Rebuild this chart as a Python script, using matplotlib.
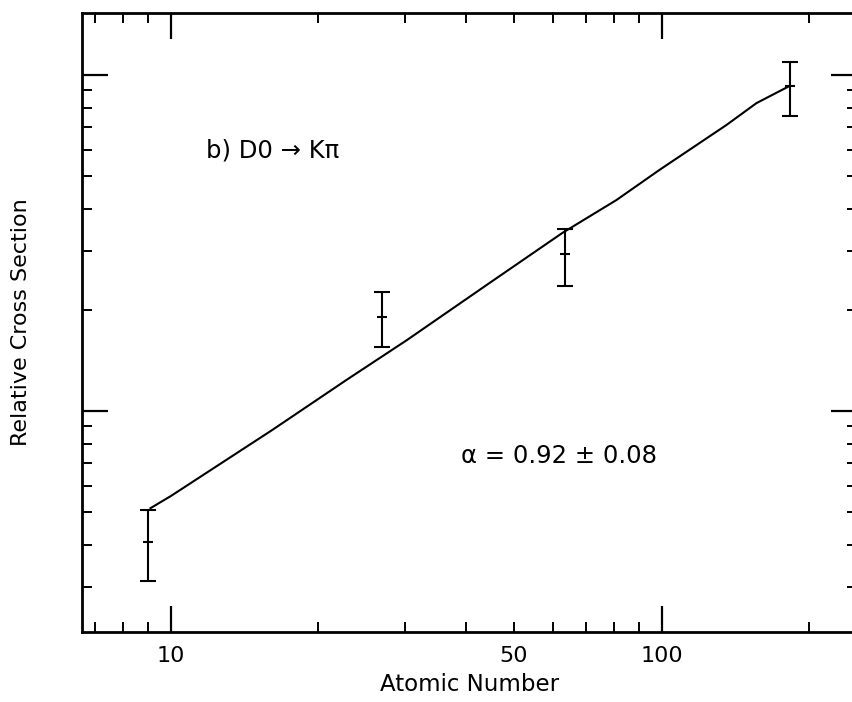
import matplotlib
matplotlib.use("Agg")
import matplotlib.pyplot as plt
from matplotlib.ticker import FixedLocator, FixedFormatter, NullFormatter

# Data
atomic_number = [9.0, 27.0, 63.5, 183.0]
cross_section = [0.0408, 0.190, 0.293, 0.927]
err_low = [0.0096, 0.035, 0.058, 0.172]
err_high = [0.0099, 0.036, 0.055, 0.166]

fit_x = [9.1, 10.0, 16.1, 22.8, 30.3, 44.6, 62.8, 80.9, 99.0, 135.5, 156.0, 182.0]
fit_y = [0.0514, 0.0558, 0.0878, 0.1237, 0.1627, 0.2404, 0.339, 0.4246, 0.522, 0.710, 0.825, 0.927]

x_major = [10, 100]
x_minor = [7, 8, 9, 20, 30, 40, 50, 60, 70, 80, 90, 200]
x_minor_labels = ["", "", "", "", "", "", "50", "", "", "", "", ""]
y_major = [0.1, 1.0]
y_minor = [0.03, 0.04, 0.05, 0.06, 0.07, 0.08, 0.09,
           0.2, 0.3, 0.4, 0.5, 0.6, 0.7, 0.8, 0.9]

plt.rcParams['font.family'] = ['DejaVu Sans']

fig = plt.figure(figsize=(8.53, 7.02), dpi=100)
ax = fig.add_axes([82 / 853, 70 / 702, 775 / 853, 619 / 702])
ax.set_xscale('log')
ax.set_yscale('log')
ax.set_xlim(6.6, 250)
ax.set_ylim(0.022, 1.53)

ax.plot(fit_x, fit_y, color='black', lw=1.5)
ax.errorbar(atomic_number, cross_section, yerr=[err_low, err_high],
            fmt='_', color='black', markersize=7, mew=1.5,
            elinewidth=1.5, capsize=5.5, capthick=1.5)

ax.xaxis.set_major_locator(FixedLocator(x_major))
ax.xaxis.set_major_formatter(FixedFormatter([str(v) for v in x_major]))
ax.xaxis.set_minor_locator(FixedLocator(x_minor))
ax.xaxis.set_minor_formatter(FixedFormatter(x_minor_labels))
ax.yaxis.set_major_locator(FixedLocator(y_major))
ax.yaxis.set_major_formatter(NullFormatter())
ax.yaxis.set_minor_locator(FixedLocator(y_minor))
ax.yaxis.set_minor_formatter(NullFormatter())

ax.tick_params(which='both', direction='in', top=True, right=True,
               colors='black', labelsize=16, pad=10)
ax.tick_params(which='major', length=19, width=1.6)
ax.tick_params(which='minor', length=7, width=1.4)

for s in ax.spines.values():
    s.set_linewidth(2.0)

ax.set_xlabel('Atomic Number', fontsize=16.5, labelpad=5)
ax.set_ylabel('Relative Cross Section', fontsize=16)
ax.yaxis.set_label_coords(-0.066, 0.5)

ax.text(11.8, 0.598, 'b) D0 → Kπ', fontsize=17.5, ha='left', va='center')
ax.text(39.1, 0.0735, 'α = 0.92 ± 0.08', fontsize=17.5, ha='left', va='center')

fig.savefig('out.png', dpi=100)
